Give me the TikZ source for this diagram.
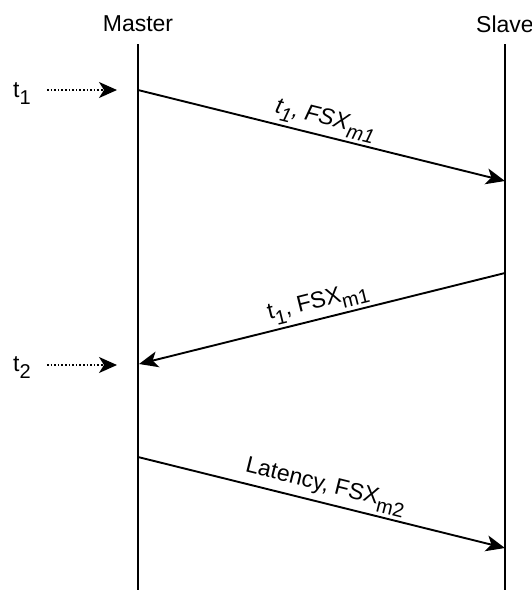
\documentclass[tikz,border=0pt]{standalone}
\usepackage{fontspec}
\setmainfont{Liberation Sans}
\usetikzlibrary{arrows.meta,positioning}
\newcommand{\lowsub}[1]{\raisebox{-0.32em}{\fontsize{20}{20}\selectfont #1}}

\begin{document}
\begin{tikzpicture}[
    x=1pt, y=-1pt,
    every node/.style={font=\fontsize{23}{27}\selectfont, inner sep=2pt},
    lifeline/.style={line width=1.9pt},
    msg/.style={line width=1.9pt, -{Stealth[length=19pt,width=16pt,inset=5pt]}},
    tickarrow/.style={line width=1.6pt, dotted, -{Stealth[length=18pt,width=16pt,inset=5pt]}},
    msglabel/.style={sloped, above, midway, inner sep=3pt},
    timelabel/.style={anchor=base west, inner sep=0pt}
]
\useasboundingbox (0,0) rectangle (532,590);

% Lifelines
\node (master) at (138,24) {Master};
\node (slave) at (505,24) {Slave};
\coordinate (mtop) at (138,44);
\coordinate (mbot) at (138,590);
\coordinate (stop) at (505,44);
\coordinate (sbot) at (505,590);
\draw[lifeline] (mtop) -- (mbot);
\draw[lifeline] (stop) -- (sbot);

% Message end points
\coordinate (m1a) at (138,90);
\coordinate (m1b) at (505,181);
\coordinate (m2a) at (505,273);
\coordinate (m2b) at (139,364);
\coordinate (m3a) at (138,457);
\coordinate (m3b) at (505,548);

% Messages
\draw[msg] (m1a) -- (m1b) node[msglabel] {\itshape t\lowsub{1}, FSX\lowsub{m1}};
\draw[msg] (m2a) -- (m2b) node[msglabel] {t\lowsub{1}, FSX\lowsub{m1}};
\draw[msg] (m3a) -- (m3b) node[msglabel] {Latency, FSX\lowsub{m2}};

% Time marks
\node[timelabel] (t1) at (13,97) {t\lowsub{1}};
\node[timelabel] (t2) at (13,371) {t\lowsub{2}};
\coordinate (t1a) at (47,90);
\coordinate (t1b) at (117,90);
\coordinate (t2a) at (47,365);
\coordinate (t2b) at (117,365);
\draw[tickarrow] (t1a) -- (t1b);
\draw[tickarrow] (t2a) -- (t2b);

\end{tikzpicture}
\end{document}
